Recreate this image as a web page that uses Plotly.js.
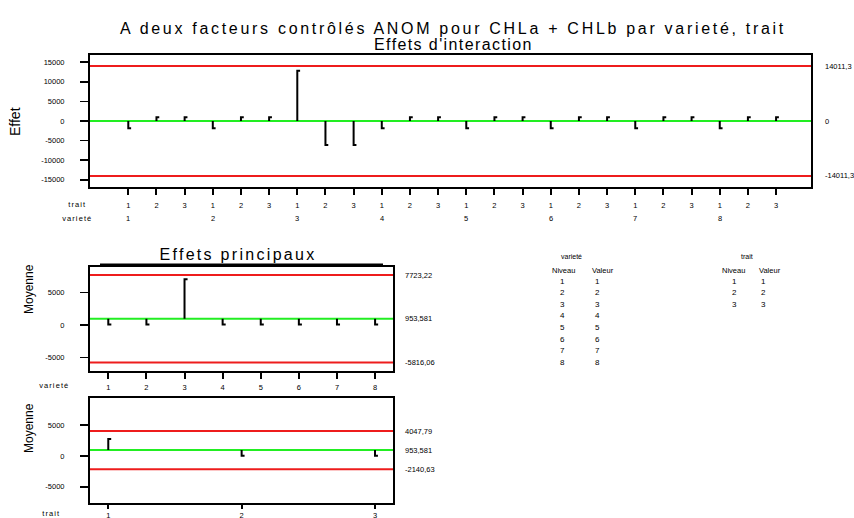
<!DOCTYPE html>
<html><head><meta charset="utf-8">
<script src="https://cdn.plot.ly/plotly-3.0.1.min.js"></script>
<style>html,body{margin:0;padding:0;background:#fff}#chart{width:854px;height:518px}</style>
</head><body><div id="chart"></div>
<script>
// ---- data ----
const varieties = ['1','2','3','4','5','6','7','8'];
const traits = ['1','2','3'];
// interaction effects, ordered variety 1..8, trait 1..3 within each
const interactionEffects = [
  -1850, 950, 950,
  -1850, 950, 950,
  12800, -6150, -6150,
  -1850, 950, 950,
  -1850, 950, 950,
  -1850, 950, 950,
  -1850, 950, 950,
  -1850, 950, 950
];
const interactionCenter = 0;
const interactionLimits = [14011.3, -14011.3];
const varietyMeans = [80, 80, 7070, 80, 80, 80, 80, 80];
const traitMeans = [2760, 50, 50];
const grandMean = 953.581;
const varietyLimits = [7723.22, -5816.06];
const traitLimits = [4047.79, -2140.63];
const topYTicks = [-15000, -10000, -5000, 0, 5000, 10000, 15000];
const mainYTicks = [-5000, 0, 5000];
const tableVarietyLevels = ['1','2','3','4','5','6','7','8'];
const tableVarietyValues = ['1','2','3','4','5','6','7','8'];
const tableTraitLevels = ['1','2','3'];
const tableTraitValues = ['1','2','3'];

// ---- helpers ----
const W = 854, H = 518;
const px = v => v / W;
const py = v => 1 - v / H;
const fmt = v => String(v).replace('.', ',');
const FONT = 'Liberation Sans, Arial, sans-serif';

function spikes(xs, vals, base, serif, xa, ya) {
  const x = [], y = [];
  xs.forEach((xv, i) => {
    x.push(xv, xv, xv + serif, null);
    y.push(base, vals[i], vals[i], null);
  });
  return {type: 'scatter', mode: 'lines', x, y, xaxis: xa, yaxis: ya,
    line: {color: '#000', width: 2}, hoverinfo: 'skip', showlegend: false,
    connectgaps: false};
}

const catX = interactionEffects.map((_, i) => i + 1);
const catText = catX.map((_, i) => traits[i % traits.length]);
const varX = varieties.map((_, i) => i + 1);
const traitX = traits.map((_, i) => i + 1);

const traces = [
  spikes(catX, interactionEffects, interactionCenter, 0.1, 'x', 'y'),
  spikes(varX, varietyMeans, grandMean, 0.08, 'x2', 'y2'),
  spikes(traitX, traitMeans, grandMean, 0.022, 'x3', 'y3')
];

function hline(xa, ya, val, color) {
  return {type: 'line', xref: xa + ' domain', yref: ya, x0: 0, x1: 1, y0: val, y1: val,
    line: {color, width: 2}, layer: 'below'};
}
const RED = '#ee1c1c', GREEN = '#22ee22';
const shapes = [
  hline('x', 'y', interactionCenter, GREEN),
  hline('x', 'y', interactionLimits[0], RED),
  hline('x', 'y', interactionLimits[1], RED),
  hline('x2', 'y2', grandMean, GREEN),
  hline('x2', 'y2', varietyLimits[0], RED),
  hline('x2', 'y2', varietyLimits[1], RED),
  hline('x3', 'y3', grandMean, GREEN),
  hline('x3', 'y3', traitLimits[0], RED),
  hline('x3', 'y3', traitLimits[1], RED),
  {type: 'line', xref: 'paper', yref: 'paper', x0: px(100), x1: px(383), y0: py(264.5), y1: py(264.5),
   line: {color: '#000', width: 2}}
];

const ann = [];
const spaced = {};   // annotation index -> letter spacing
function txt(x, y, text, size, opts, ls) {
  ann.push(Object.assign({xref: 'paper', yref: 'paper', x: px(x), y: py(y), text, showarrow: false,
    font: {family: FONT, size, color: '#000'}, xanchor: 'center', yanchor: 'middle'}, opts || {}));
  if (ls) spaced[ann.length - 1] = ls;
}
// right-hand limit labels
function rlabel(x, ya, val) {
  ann.push({xref: 'paper', yref: ya, x: px(x), y: val, text: fmt(val), showarrow: false,
    font: {family: FONT, size: 7.5, color: '#000'}, xanchor: 'left', yanchor: 'middle'});
}
rlabel(823, 'y', interactionLimits[0]);
rlabel(823, 'y', interactionCenter);
rlabel(823, 'y', interactionLimits[1]);
rlabel(403, 'y2', varietyLimits[0]);
rlabel(403, 'y2', grandMean);
rlabel(403, 'y2', varietyLimits[1]);
rlabel(403, 'y3', traitLimits[0]);
rlabel(403, 'y3', grandMean);
rlabel(403, 'y3', traitLimits[1]);

// second row of the top x axis: variety labels under the first trait of each variety
varieties.forEach((v, i) => {
  ann.push({xref: 'x', yref: 'paper', x: i * traits.length + 1, y: py(218), text: v, showarrow: false,
    font: {family: FONT, size: 7.5, color: '#000'}, xanchor: 'center', yanchor: 'middle'});
});
txt(77, 204, 'trait', 7.5, null, '1.1px');
txt(77, 218, 'varieté', 7.5, null, '1.1px');
txt(54, 385.5, 'varieté', 7.5, null, '1.1px');
txt(51, 513.5, 'trait', 7.5, null, '1.1px');

// second title line
txt(453, 44, 'Effets d\'interaction', 16, null, '1.4px');

// axis titles
txt(15, 121, 'Effet', 14, {textangle: -90});
txt(29, 289, 'Moyenne', 12, {textangle: -90});
txt(29, 428, 'Moyenne', 12, {textangle: -90});

// sub title
txt(238, 254, 'Effets principaux', 16, null, '2.3px');

// tables
txt(571.5, 256, 'varieté', 7);
txt(563, 270, 'Niveau', 7.5);
txt(603, 270, 'Valeur', 7.5);
tableVarietyLevels.forEach((l, i) => {
  txt(562, 281 + i * 11.6, l, 8);
  txt(597, 281 + i * 11.6, tableVarietyValues[i], 8);
});
txt(747, 256, 'trait', 7);
txt(733, 270, 'Niveau', 7.5);
txt(770, 270, 'Valeur', 7.5);
tableTraitLevels.forEach((l, i) => {
  txt(734, 281 + i * 11.6, l, 8);
  txt(763, 281 + i * 11.6, tableTraitValues[i], 8);
});

const axBase = {showline: true, mirror: true, linewidth: 2, linecolor: '#000', zeroline: false,
  showgrid: false, ticks: 'outside', tickcolor: '#000', tickfont: {family: FONT, size: 7.5, color: '#000'},
  fixedrange: true};

const layout = {
  width: W, height: H, margin: {l: 0, r: 0, t: 0, b: 0},
  paper_bgcolor: '#fff', plot_bgcolor: '#fff', showlegend: false,
  font: {family: FONT},
  title: {text: 'A deux facteurs contrôlés ANOM pour CHLa + CHLb par varieté, trait',
    x: px(453), xanchor: 'center', xref: 'paper', y: py(28), yanchor: 'middle', yref: 'container',
    font: {family: FONT, size: 16, color: '#000'}},
  xaxis: Object.assign({}, axBase, {domain: [px(90), px(811)], range: [-0.36, 25.24], anchor: 'y',
    tickvals: catX, ticktext: catText, ticklen: 6, tickwidth: 2, ticklabelstandoff: 4}),
  yaxis: Object.assign({}, axBase, {domain: [py(187), py(55)], range: [-16837, 16837], anchor: 'x',
    tickvals: topYTicks, ticktext: topYTicks.map(String), ticklen: 8, tickwidth: 1.5, ticklabelstandoff: 14}),
  xaxis2: Object.assign({}, axBase, {domain: [px(90), px(393)], range: [0.52, 8.47], anchor: 'y2',
    tickvals: varX, ticktext: varieties, ticklen: 6, tickwidth: 2, ticklabelstandoff: 2}),
  yaxis2: Object.assign({}, axBase, {domain: [py(371), py(267)], range: [-7121, 8978], anchor: 'x2',
    tickvals: mainYTicks, ticktext: mainYTicks.map(String), ticklen: 8, tickwidth: 1.5, ticklabelstandoff: 14}),
  xaxis3: Object.assign({}, axBase, {domain: [px(90), px(393)], range: [0.863, 3.135], anchor: 'y3',
    tickvals: traitX, ticktext: traits, ticklen: 4, tickwidth: 2, ticklabelstandoff: 0}),
  yaxis3: Object.assign({}, axBase, {domain: [py(502.5), py(398)], range: [-7536, 9400], anchor: 'x3',
    tickvals: mainYTicks, ticktext: mainYTicks.map(String), ticklen: 8, tickwidth: 1.5, ticklabelstandoff: 14}),
  shapes, annotations: ann
};

Plotly.newPlot('chart', traces, layout, {staticPlot: true, displayModeBar: false}).then(() => {
  // the reference renders these texts with wider tracking
  const t = document.querySelector('.gtitle');
  if (t) t.style.letterSpacing = '2.7px';
  const groups = document.querySelectorAll('g.annotation');
  Object.keys(spaced).forEach(k => {
    const g = document.querySelector('g.annotation[data-index="' + k + '"]') || groups[+k];
    if (g) g.querySelectorAll('text').forEach(el => { el.style.letterSpacing = spaced[k]; });
  });
});
</script>
</body></html>
